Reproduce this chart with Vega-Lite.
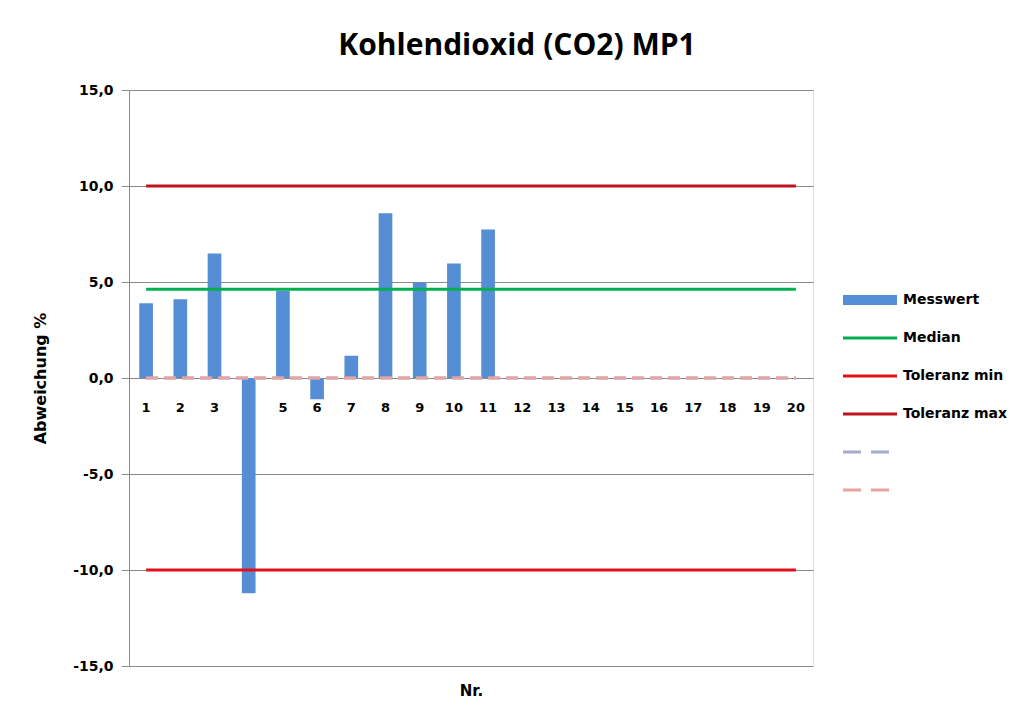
{
  "$schema": "https://vega.github.io/schema/vega-lite/v6.json",
  "width": 684,
  "height": 576,
  "autosize": {"type": "none"},
  "padding": {"left": 129, "top": 90, "right": 199, "bottom": 46},
  "background": "white",
  "title": {
    "text": "Kohlendioxid (CO2) MP1",
    "font": "Open Sans",
    "fontSize": 30,
    "fontWeight": "bold",
    "color": "#000000",
    "anchor": "middle",
    "frame": "group",
    "dx": 46,
    "dy": 36,
    "baseline": "bottom",
    "offset": 28
  },
  "datasets": {
    "bars": [
      {"Nr": 1, "Messwert": 3.89},
      {"Nr": 2, "Messwert": 4.1},
      {"Nr": 3, "Messwert": 6.49},
      {"Nr": 4, "Messwert": -11.21},
      {"Nr": 5, "Messwert": 4.55},
      {"Nr": 6, "Messwert": -1.11},
      {"Nr": 7, "Messwert": 1.16},
      {"Nr": 8, "Messwert": 8.58},
      {"Nr": 9, "Messwert": 4.98},
      {"Nr": 10, "Messwert": 5.97},
      {"Nr": 11, "Messwert": 7.74}
    ],
    "lines": [
      {"series": "d1", "Nr": 1, "value": 0},
      {"series": "d1", "Nr": 20, "value": 0},
      {"series": "d2", "Nr": 1, "value": 0},
      {"series": "d2", "Nr": 20, "value": 0},
      {"series": "Median", "Nr": 1, "value": 4.62},
      {"series": "Median", "Nr": 20, "value": 4.62},
      {"series": "Toleranz min", "Nr": 1, "value": -10},
      {"series": "Toleranz min", "Nr": 20, "value": -10},
      {"series": "Toleranz max", "Nr": 1, "value": 10},
      {"series": "Toleranz max", "Nr": 20, "value": 10}
    ]
  },
  "layer": [
    {
      "data": {"name": "bars"},
      "mark": {"type": "bar"},
      "encoding": {
        "x": {
          "field": "Nr",
          "type": "ordinal",
          "title": "Nr.",
          "scale": {"domain": [1,2,3,4,5,6,7,8,9,10,11,12,13,14,15,16,17,18,19,20], "paddingInner": 0.6, "paddingOuter": 0.3},
          "axis": {
            "domain": false,
            "ticks": false,
            "grid": false,
            "labelAngle": 0,
            "labelPadding": -265,
            "labelFont": "DejaVu Sans",
            "labelFontWeight": "bold",
            "labelFontSize": 13,
            "labelColor": "#000000",
            "titleFont": "DejaVu Sans",
            "titleFontWeight": "bold",
            "titleFontSize": 15,
            "titleColor": "#000000",
            "titleY": 24,
            "titleBaseline": "middle"
          }
        },
        "y": {
          "field": "Messwert",
          "type": "quantitative",
          "title": "Abweichung %",
          "scale": {"domain": [-15, 15], "nice": false},
          "axis": {
            "values": [-15, -10, -5, 0, 5, 10, 15],
            "grid": true,
            "gridColor": "#8a8a8a",
            "domainColor": "#8a8a8a",
            "tickColor": "#8a8a8a",
            "tickSize": 8,
            "labelPadding": 8,
            "labelExpr": "replace(replace(format(datum.value, '.1f'), '.', ','), '\u2212', '-')",
            "labelFont": "DejaVu Sans",
            "labelFontWeight": "bold",
            "labelFontSize": 14,
            "labelColor": "#000000",
            "titleFont": "DejaVu Sans",
            "titleFontWeight": "bold",
            "titleFontSize": 16,
            "titleColor": "#000000",
            "titleX": -89,
            "titleY": 288,
            "titleAlign": "center",
            "titleBaseline": "middle"
          }
        },
        "color": {
          "datum": "Messwert",
          "type": "nominal",
          "title": null,
          "scale": {
            "domain": ["Messwert", "Median", "Toleranz min", "Toleranz max", "d1", "d2"],
            "range": ["#558ED5", "#00B050", "#E3101A", "#C0141C", "#A6ACCB", "#E8A3A0"]
          },
          "legend": {
            "orient": "none",
            "legendX": 713,
            "legendY": 203,
            "title": null,
            "labelFont": "DejaVu Sans",
            "labelFontWeight": "bold",
            "labelFontSize": 14,
            "labelColor": "#000000",
            "symbolSize": 2916,
            "rowPadding": 24,
            "labelOffset": 4,
            "labelExpr": "indexof(['d1','d2'], datum.label) >= 0 ? '' : datum.label",
            "encode": {
              "symbols": {
                "update": {
                  "x": {"value": 28},
                  "shape": {"signal": "datum.value === 'Messwert' ? 'M-1,-0.185H1V0.185H-1Z' : 'stroke'"},
                  "fill": {"signal": "datum.value === 'Messwert' ? scale('color', datum.value) : 'transparent'"},
                  "stroke": {"signal": "scale('color', datum.value)"},
                  "strokeWidth": {"signal": "datum.value === 'Messwert' ? 0 : 3"},
                  "strokeDash": {"signal": "indexof(['d1','d2'], datum.value) >= 0 ? [18, 10] : [1, 0]"},
                  "opacity": {"value": 1}
                }
              },
              "labels": {
                "update": {
                  "x": {"value": 61}
                }
              }
            }
          }
        }
      }
    },
    {
      "data": {"name": "lines"},
      "mark": {"type": "line"},
      "encoding": {
        "x": {"field": "Nr", "type": "ordinal"},
        "y": {"field": "value", "type": "quantitative"},
        "color": {"field": "series", "type": "nominal", "title": null},
        "detail": {"field": "series"},
        "strokeDash": {
          "field": "series",
          "type": "nominal",
          "scale": {"domain": ["Median", "Toleranz min", "Toleranz max", "d1", "d2"], "range": [[1, 0], [1, 0], [1, 0], [12, 6], [12, 6]]},
          "legend": null
        },
        "strokeWidth": {
          "field": "series",
          "type": "nominal",
          "scale": {"domain": ["Median", "Toleranz min", "Toleranz max", "d1", "d2"], "range": [3, 3, 3, 2, 2]},
          "legend": null
        }
      }
    }
  ]
}
